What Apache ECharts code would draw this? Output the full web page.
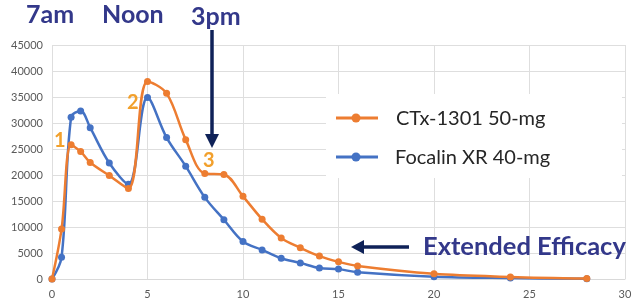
<!DOCTYPE html>
<html>
<head>
<meta charset="utf-8">
<script src="https://cdn.jsdelivr.net/npm/echarts@6/dist/echarts.min.js"></script>
<style>
html,body{margin:0;padding:0;background:#fff;}
#container{width:636px;height:301px;}
</style>
</head>
<body>
<div id="container"></div>
<script>
// 读图得到的数据
var ctxHours = [0, 0.5, 1, 1.5, 2, 3, 4, 5, 6, 7, 8, 9, 10, 11, 12, 13, 14, 15, 16, 20, 24, 28];
var ctxConc = [0, 9600, 25800, 24500, 22400, 19900, 17400, 38000, 35700, 26800, 20300, 20100, 15900, 11500, 7900, 6000, 4400, 3300, 2500, 1000, 400, 80];
var focHours = [0, 0.5, 1, 1.5, 2, 3, 4, 5, 6, 7, 8, 9, 10, 11, 12, 13, 14, 15, 16, 20, 24, 28];
var focConc = [0, 4200, 31100, 32300, 29100, 22300, 18200, 34900, 27200, 21700, 15700, 11400, 7200, 5600, 4000, 3100, 2100, 1900, 1300, 450, 180, 50];
var seriesNames = ['CTx-1301 50-mg', 'Focalin XR 40-mg'];
var xTicks = [0, 5, 10, 15, 20, 25, 30];
var yTicks = [0, 5000, 10000, 15000, 20000, 25000, 30000, 35000, 40000, 45000];

function toPairs(xs, ys) {
    var out = [];
    for (var i = 0; i < xs.length; i++) {
        out.push([xs[i], ys[i]]);
    }
    return out;
}

var dom = document.getElementById("container");
var myChart = echarts.init(dom);
var navy = '#33388a';
var arrowCol = '#0f2258';
var orange = '#ed7d31';
var blue = '#4472c4';
var numCol = '#f2a02c';

var option = {
    animation: false,
    grid: { left: 52, right: 11, top: 45, bottom: 22 },
    xAxis: {
        type: 'value',
        min: xTicks[0],
        max: xTicks[xTicks.length - 1],
        interval: 5,
        axisLine: { show: true, lineStyle: { color: '#d9d9d9' } },
        axisTick: { show: false },
        axisLabel: { color: '#595959', fontSize: 11, fontFamily: 'Lato', margin: 10 },
        splitLine: { show: true, lineStyle: { color: '#dedede' } }
    },
    yAxis: {
        type: 'value',
        min: yTicks[0],
        max: yTicks[yTicks.length - 1],
        interval: 5000,
        axisLine: { show: false },
        axisTick: { show: false },
        axisLabel: {
            color: '#595959', fontSize: 11, fontFamily: 'Lato', margin: 9,
            formatter: function (v) { return String(v); }
        },
        splitLine: { show: true, lineStyle: { color: '#dedede' } }
    },
    legend: { show: false },
    series: [
        {
            name: seriesNames[1],
            type: 'line',
            smooth: 0.35,
            symbol: 'circle',
            symbolSize: 7,
            z: 2,
            lineStyle: { color: blue, width: 2.5 },
            itemStyle: { color: blue },
            data: toPairs(focHours, focConc)
        },
        {
            name: seriesNames[0],
            type: 'line',
            smooth: 0.35,
            symbol: 'circle',
            symbolSize: 7,
            z: 3,
            lineStyle: { color: orange, width: 2.5 },
            itemStyle: { color: orange },
            data: toPairs(ctxHours, ctxConc)
        }
    ],
    graphic: [
        // 图例
        { type: 'rect', shape: { x: 326, y: 94, width: 296, height: 84 }, style: { fill: '#fff' }, z: 10 },
        { type: 'line', shape: { x1: 336, y1: 118, x2: 378, y2: 118 }, style: { stroke: orange, lineWidth: 3 }, z: 11 },
        { type: 'circle', shape: { cx: 356, cy: 118, r: 4.5 }, style: { fill: orange }, z: 11 },
        { type: 'text', x: 396, y: 119, style: { text: seriesNames[0], fill: '#262626', fontSize: 20, fontFamily: 'Lato', verticalAlign: 'middle' }, z: 11 },
        { type: 'line', shape: { x1: 336, y1: 157, x2: 378, y2: 157 }, style: { stroke: blue, lineWidth: 3 }, z: 11 },
        { type: 'circle', shape: { cx: 356, cy: 157, r: 4.5 }, style: { fill: blue }, z: 11 },
        { type: 'text', x: 395, y: 158, style: { text: seriesNames[1], fill: '#262626', fontSize: 20, fontFamily: 'Lato', verticalAlign: 'middle' }, z: 11 },
        // 标注文字
        { type: 'text', x: 26, y: 15, style: { text: '7am', fill: navy, fontSize: 25, fontWeight: 'bold', fontFamily: 'Lato', verticalAlign: 'middle' }, z: 12 },
        { type: 'text', x: 102, y: 15, style: { text: 'Noon', fill: navy, fontSize: 25, fontWeight: 'bold', fontFamily: 'Lato', verticalAlign: 'middle' }, z: 12 },
        { type: 'text', x: 191, y: 17, style: { text: '3pm', fill: navy, fontSize: 25, fontWeight: 'bold', fontFamily: 'Lato', verticalAlign: 'middle' }, z: 12 },
        { type: 'text', x: 423, y: 247, style: { text: 'Extended Efficacy', fill: navy, fontSize: 25.5, fontWeight: 'bold', fontFamily: 'Lato', verticalAlign: 'middle' }, z: 12 },
        { type: 'text', x: 54, y: 141, style: { text: '1', fill: numCol, fontSize: 20, fontWeight: 'bold', fontFamily: 'Lato', verticalAlign: 'middle' }, z: 12 },
        { type: 'text', x: 127, y: 103, style: { text: '2', fill: numCol, fontSize: 20, fontWeight: 'bold', fontFamily: 'Lato', verticalAlign: 'middle' }, z: 12 },
        { type: 'text', x: 203, y: 161, style: { text: '3', fill: numCol, fontSize: 20, fontWeight: 'bold', fontFamily: 'Lato', verticalAlign: 'middle' }, z: 12 },
        // 箭头
        { type: 'line', shape: { x1: 212, y1: 30, x2: 212, y2: 136 }, style: { stroke: arrowCol, lineWidth: 3.5 }, z: 12 },
        { type: 'polygon', shape: { points: [[205, 134], [219, 134], [212, 148]] }, style: { fill: arrowCol }, z: 12 },
        { type: 'line', shape: { x1: 409, y1: 247, x2: 362, y2: 247 }, style: { stroke: arrowCol, lineWidth: 3.5 }, z: 12 },
        { type: 'polygon', shape: { points: [[364, 240], [364, 254], [351, 247]] }, style: { fill: arrowCol }, z: 12 }
    ]
};
if (option && typeof option === "object") {
    myChart.setOption(option, true);
}
</script>
</body>
</html>
